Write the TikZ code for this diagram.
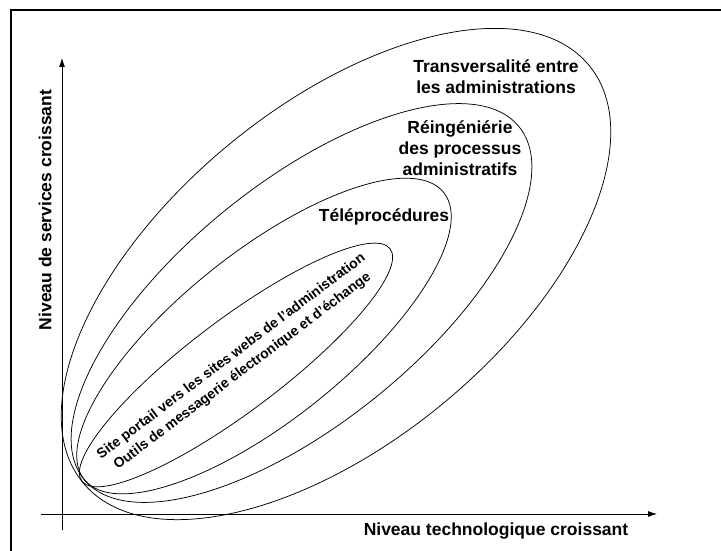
\documentclass[tikz,border=0pt]{standalone}
\usepackage{fontspec}
\setmainfont{Liberation Sans}
\usepackage{tikz}
\usetikzlibrary{arrows.meta}

\begin{document}
\begin{tikzpicture}[x=1pt,y=1pt,
  lbl/.style={font=\bfseries\fontsize{17.5}{21}\selectfont, align=center, inner sep=0pt},
  small/.style={font=\bfseries\fontsize{14}{18.5}\selectfont, align=center, inner sep=0pt},
  zone/.style={draw, line width=0.75pt},
  axis/.style={line width=0.8pt, -{Latex[length=9pt,width=6pt]}}]
\useasboundingbox (0,0) rectangle (721,550);
\draw[line width=2.5pt] (11,-20) rectangle (760,540);
\coordinate (o1) at (62,20);
\coordinate (ytop) at (62,492);
\coordinate (o2) at (41,36);
\coordinate (xend) at (657,36);
\draw[axis] (o1) -- (ytop);
\draw[axis] (o2) -- (xend);
\coordinate (c1) at (236,185);
\coordinate (c2) at (264,214);
\coordinate (c3) at (301.5,247);
\coordinate (c4) at (336,276);
\draw[zone, rotate around={37:(c1)}] (c1) ellipse [x radius=193, y radius=46];
\draw[zone, rotate around={38.6:(c2)}] (c2) ellipse [x radius=230, y radius=84];
\draw[zone, rotate around={39:(c3)}] (c3) ellipse [x radius=280, y radius=120];
\draw[zone, rotate around={39.5:(c4)}] (c4) ellipse [x radius=328, y radius=168];
\node[lbl] (xlabel) at (496,19) {Niveau technologique croissant};
\node[lbl, rotate=90] (ylabel) at (45,340) {Niveau de services croissant};
\node[lbl] (tele) at (384,333) {Téléprocédures};
\node[lbl] (reing) at (460,402) {Réingéniérie\\des processus\\administratifs};
\node[lbl] (transv) at (496,473) {Transversalité entre\\les administrations};
\node[small, rotate=37] (portail) at (237,186) {Site portail vers les sites webs de l’administration\\Outils de messagerie électronique et d’échange};
\end{tikzpicture}
\end{document}
